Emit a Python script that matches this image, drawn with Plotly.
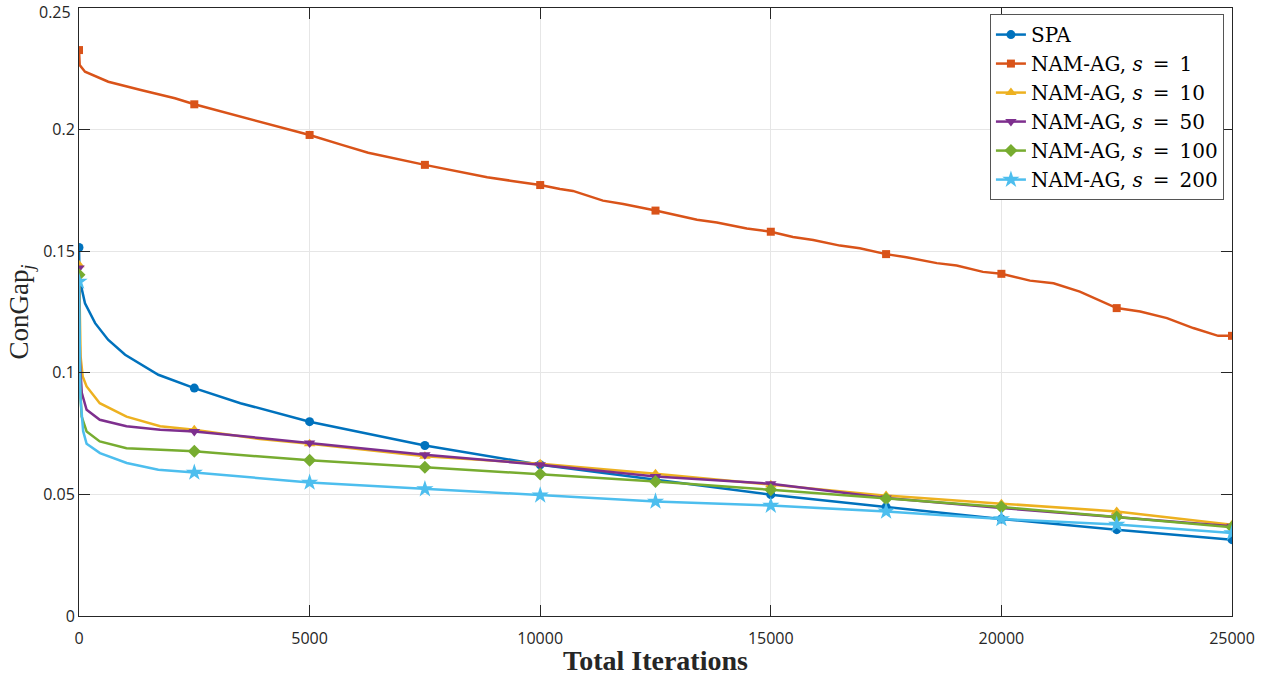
import plotly.graph_objects as go

# ---------------- data ----------------
spa_x = [0, 10, 30, 130, 350, 630, 1000, 1720, 2500, 3500, 5000, 6090, 7500, 10000, 12500, 15000, 17500, 20000, 22500, 25000]
spa_y = [0.1515, 0.1400, 0.1370, 0.1286, 0.1204, 0.1136, 0.1074, 0.0992, 0.0937, 0.0875, 0.0799, 0.0755, 0.0701, 0.0622, 0.0560, 0.0499, 0.0448, 0.0399, 0.0355, 0.0314]

s1_x = [0, 15, 130, 635, 1340, 2080, 2500, 3530, 5000, 5700, 6270, 7500, 8260, 8850, 9350, 10000, 10430, 10710, 11360, 11800,
        12500, 13400, 13830, 14480, 15000, 15480, 15920, 16500, 16930, 17500, 17940, 18600, 19030, 19600, 20000, 20620, 21130,
        21700, 22500, 23010, 23590, 24160, 24700, 25000]
s1_y = [0.2327, 0.2265, 0.2238, 0.2197, 0.2163, 0.2129, 0.2104, 0.2051, 0.1978, 0.1937, 0.1905, 0.1855, 0.1825, 0.1804, 0.1790, 0.1772, 0.1756, 0.1748, 0.1708, 0.1694,
        0.1667, 0.1629, 0.1618, 0.1593, 0.1580, 0.1558, 0.1546, 0.1523, 0.1512, 0.1488, 0.1475, 0.1451, 0.1441, 0.1415, 0.1407, 0.1379, 0.1368,
        0.1334, 0.1266, 0.1252, 0.1225, 0.1184, 0.1152, 0.1152]

s10_x = [0, 15, 35, 80, 165, 450, 1030, 1760, 2500, 3920, 5000, 7500, 10000, 12500, 15000, 17500, 20000, 22500, 25000]
s10_y = [0.1444, 0.1250, 0.1067, 0.0985, 0.0944, 0.0875, 0.0820, 0.0780, 0.0766, 0.0728, 0.0708, 0.0657, 0.0626, 0.0585, 0.0540, 0.0495, 0.0462, 0.0430, 0.0375]

s50_x = [0, 20, 60, 165, 450, 1030, 1760, 2500, 3920, 5000, 7500, 10000, 12500, 15000, 17500, 20000, 22500, 25000]
s50_y = [0.1431, 0.1050, 0.0918, 0.0848, 0.0807, 0.0780, 0.0766, 0.0759, 0.0732, 0.0711, 0.0663, 0.0622, 0.0574, 0.0544, 0.0485, 0.0444, 0.0407, 0.0369]

s100_x = [0, 20, 58, 165, 450, 1030, 2500, 5000, 7500, 10000, 12500, 15000, 17500, 20000, 22500, 25000]
s100_y = [0.1403, 0.0950, 0.0820, 0.0759, 0.0718, 0.0690, 0.0677, 0.0640, 0.0612, 0.0584, 0.0553, 0.0519, 0.0482, 0.0448, 0.0407, 0.0365]

s200_x = [0, 30, 90, 165, 455, 1035, 1720, 2500, 5000, 7500, 10000, 12500, 15000, 17500, 20000, 22500, 25000]
s200_y = [0.1375, 0.0900, 0.0760, 0.0708, 0.0670, 0.0629, 0.0601, 0.0590, 0.0549, 0.0522, 0.0496, 0.0471, 0.0454, 0.0430, 0.0399, 0.0376, 0.0341]

EQ = "\u2002=\u2002"
names = ["SPA", "NAM-AG, <i>s</i>" + EQ + "1", "NAM-AG, <i>s</i>" + EQ + "10", "NAM-AG, <i>s</i>" + EQ + "50",
         "NAM-AG, <i>s</i>" + EQ + "100", "NAM-AG, <i>s</i>" + EQ + "200"]
marker_step = 2500

x_ticks = [0, 5000, 10000, 15000, 20000, 25000]
y_ticks = [0, 0.05, 0.1, 0.15, 0.2, 0.25]
y_tick_text = ["0", "0.05", "0.1", "0.15", "0.2", ""]
top_tick_label = "0.25"

# ---------------- styles ----------------
colors = ["#0072BD", "#D95319", "#EDB120", "#7E2F8E", "#77AC30", "#4DBEEE"]
symbols = ["circle", "square", "triangle-up", "triangle-down", "diamond", "star"]
msizes = [9, 8, 10, 10, 10, 13]

series = [(spa_x, spa_y), (s1_x, s1_y), (s10_x, s10_y), (s50_x, s50_y), (s100_x, s100_y), (s200_x, s200_y)]

fig = go.Figure()
for i, (xs, ys) in enumerate(series):
    fig.add_trace(go.Scatter(x=xs, y=ys, mode="lines", line=dict(color=colors[i], width=2.5),
                             showlegend=False, hoverinfo="skip"))
    mx = [x for x in xs if x % marker_step == 0]
    my = [y for x, y in zip(xs, ys) if x % marker_step == 0]
    fig.add_trace(go.Scatter(x=mx, y=my, mode="markers",
                             marker=dict(color=colors[i], symbol=symbols[i], size=msizes[i],
                                         line=dict(width=0)),
                             showlegend=False))
for i in range(len(series)):
    fig.add_trace(go.Scatter(x=[None], y=[None], mode="lines+markers", name=names[i],
                             line=dict(color=colors[i], width=2.5),
                             marker=dict(color=colors[i], symbol=symbols[i], size=msizes[i], line=dict(width=0))))

tick_font = dict(family="Open Sans", size=16, color="#262626")
axis_common = dict(showline=True, linecolor="#262626", linewidth=1, mirror="ticks",
                   ticks="inside", ticklen=11, tickcolor="#262626", tickwidth=1,
                   showgrid=True, gridcolor="#e6e6e6", gridwidth=1, zeroline=False,
                   ticklabeloverflow="allow", automargin=False, tickfont=tick_font)

fig.add_annotation(x=0, xref="paper", y=y_ticks[-1], yref="y", text=top_tick_label,
                   showarrow=False, xanchor="right", yanchor="middle", xshift=-6, yshift=-4,
                   font=tick_font)

fig.update_layout(
    width=1266, height=676,
    margin=dict(l=79, r=34, t=8, b=60, autoexpand=False),
    paper_bgcolor="white", plot_bgcolor="white",
    xaxis=dict(range=[0, 25000], tickvals=x_ticks, ticktext=[str(v) for v in x_ticks],
               title=dict(text="<b>Total Iterations</b>", standoff=3,
                          font=dict(family="Liberation Serif", size=28, color="#262626")),
               ticklabelstandoff=8, **axis_common),
    yaxis=dict(range=[0, 0.25], tickvals=y_ticks, ticktext=y_tick_text,
               title=dict(text="ConGap<sub><i>j</i></sub>", standoff=6,
                          font=dict(family="Liberation Serif", size=27, color="#262626")),
               **axis_common),
    legend=dict(x=0.993, y=0.99, xanchor="right", yanchor="top",
                bgcolor="white", bordercolor="#555555", borderwidth=1,
                font=dict(family="DejaVu Serif", size=20, color="#000000"),
                itemwidth=30, tracegroupgap=0),
)

fig.write_html("out.html")
